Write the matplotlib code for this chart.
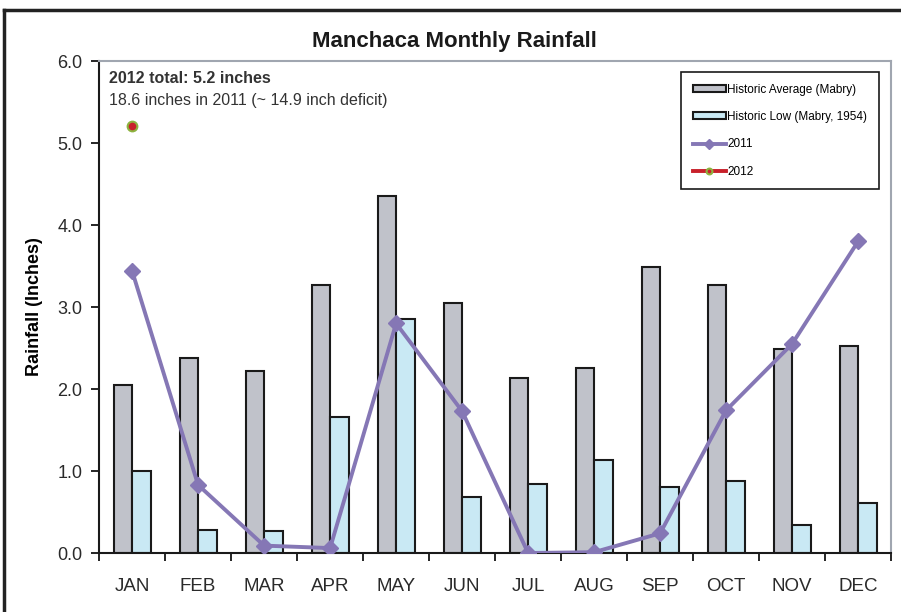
import numpy as np
import matplotlib.pyplot as plt
from matplotlib.lines import Line2D

plt.rcParams['font.family'] = ['Liberation Sans', 'DejaVu Sans']

# Daten
monate = ['JAN', 'FEB', 'MAR', 'APR', 'MAY', 'JUN', 'JUL', 'AUG', 'SEP', 'OCT', 'NOV', 'DEC']
hist_avg = [2.05, 2.38, 2.22, 3.27, 4.35, 3.05, 2.13, 2.26, 3.49, 3.27, 2.49, 2.52]
hist_low = [1.00, 0.28, 0.27, 1.66, 2.85, 0.68, 0.84, 1.13, 0.80, 0.88, 0.34, 0.61]
rain_2011 = [3.44, 0.83, 0.09, 0.06, 2.80, 1.73, 0.00, 0.01, 0.24, 1.74, 2.55, 3.80]
rain_2012 = [5.21]

x = np.arange(len(monate))
breite = 0.28

fig = plt.figure(figsize=(9.01, 6.12), dpi=100)
ax = fig.add_axes([0.110, 0.0964, 0.879, 0.8039])

b1 = ax.bar(x - breite / 2, hist_avg, breite, color='#c0c2ca', edgecolor='#1a1a1a',
            linewidth=1.5, label='Historic Average (Mabry)', zorder=2)
b2 = ax.bar(x + breite / 2, hist_low, breite, color='#c9e9f4', edgecolor='#1a1a1a',
            linewidth=1.5, label='Historic Low (Mabry, 1954)', zorder=2)
l1, = ax.plot(x, rain_2011, color='#8577b5', linewidth=2.8, marker='D', markersize=8,
              label='2011', zorder=3)
l2, = ax.plot(x[:len(rain_2012)], rain_2012, color='#c8202a', linewidth=2.8, marker='o',
              markersize=7, markerfacecolor='#c8202a', markeredgecolor='#8db33f',
              markeredgewidth=1.5, label='2012', zorder=4)

# Achsen
ax.set_xlim(-0.5, len(monate) - 0.5)
ax.set_ylim(0, 6)
ax.set_yticks(np.arange(0, 6.1, 1.0))
ax.set_yticklabels([f'{v:.1f}' for v in np.arange(0, 6.1, 1.0)], fontsize=13, color='#2a2a2a')
ax.tick_params(axis='y', direction='out', length=6, width=1.2, pad=6)
ax.set_xticks(x)
ax.set_xticklabels(monate, fontsize=13.5, color='#2a2a2a')
ax.tick_params(axis='x', which='major', length=0, pad=18)
ax.set_xticks(np.arange(-0.5, len(monate)), minor=True)
ax.tick_params(axis='x', which='minor', direction='out', length=6, width=1.2)
ax.set_ylabel('Rainfall (Inches)', fontsize=13, fontweight='bold', labelpad=10)

for s in ['left', 'bottom']:
    ax.spines[s].set_color('#1a1a1a')
    ax.spines[s].set_linewidth(1.5)
for s in ['top', 'right']:
    ax.spines[s].set_color('#a0a6b0')
    ax.spines[s].set_linewidth(1.5)

# Texte
fig.text(0.504, 0.915, 'Manchaca Monthly Rainfall', ha='center', va='bottom',
         fontsize=16, fontweight='bold', color='#1a1a1a')
ax.text(0.012, 0.965, '2012 total: 5.2 inches', transform=ax.transAxes,
        fontsize=11.5, fontweight='bold', color='#333333', va='center')
ax.text(0.012, 0.920, '18.6 inches in 2011 (~ 14.9 inch deficit)', transform=ax.transAxes,
        fontsize=11.5, color='#333333', va='center')

leg = ax.legend([b1, b2, l1, l2], [h.get_label() for h in [b1, b2, l1, l2]],
                loc='upper right', bbox_to_anchor=(0.985, 0.978), borderaxespad=0,
                fontsize=8.5, labelspacing=1.3, handlelength=2.8, handletextpad=0.15,
                markerscale=0.6, handleheight=0.5,
                fancybox=False, framealpha=1, edgecolor='#1a1a1a', borderpad=1.0)
leg.get_frame().set_linewidth(1.2)

# Rahmen der Grafik
fig.add_artist(Line2D([0.004, 0.004], [0, 0.984], transform=fig.transFigure,
                      color='#222222', linewidth=2.5))
fig.add_artist(Line2D([0.004, 1.0], [0.984, 0.984], transform=fig.transFigure,
                      color='#222222', linewidth=2.5))

fig.savefig('out.png', dpi=100)
